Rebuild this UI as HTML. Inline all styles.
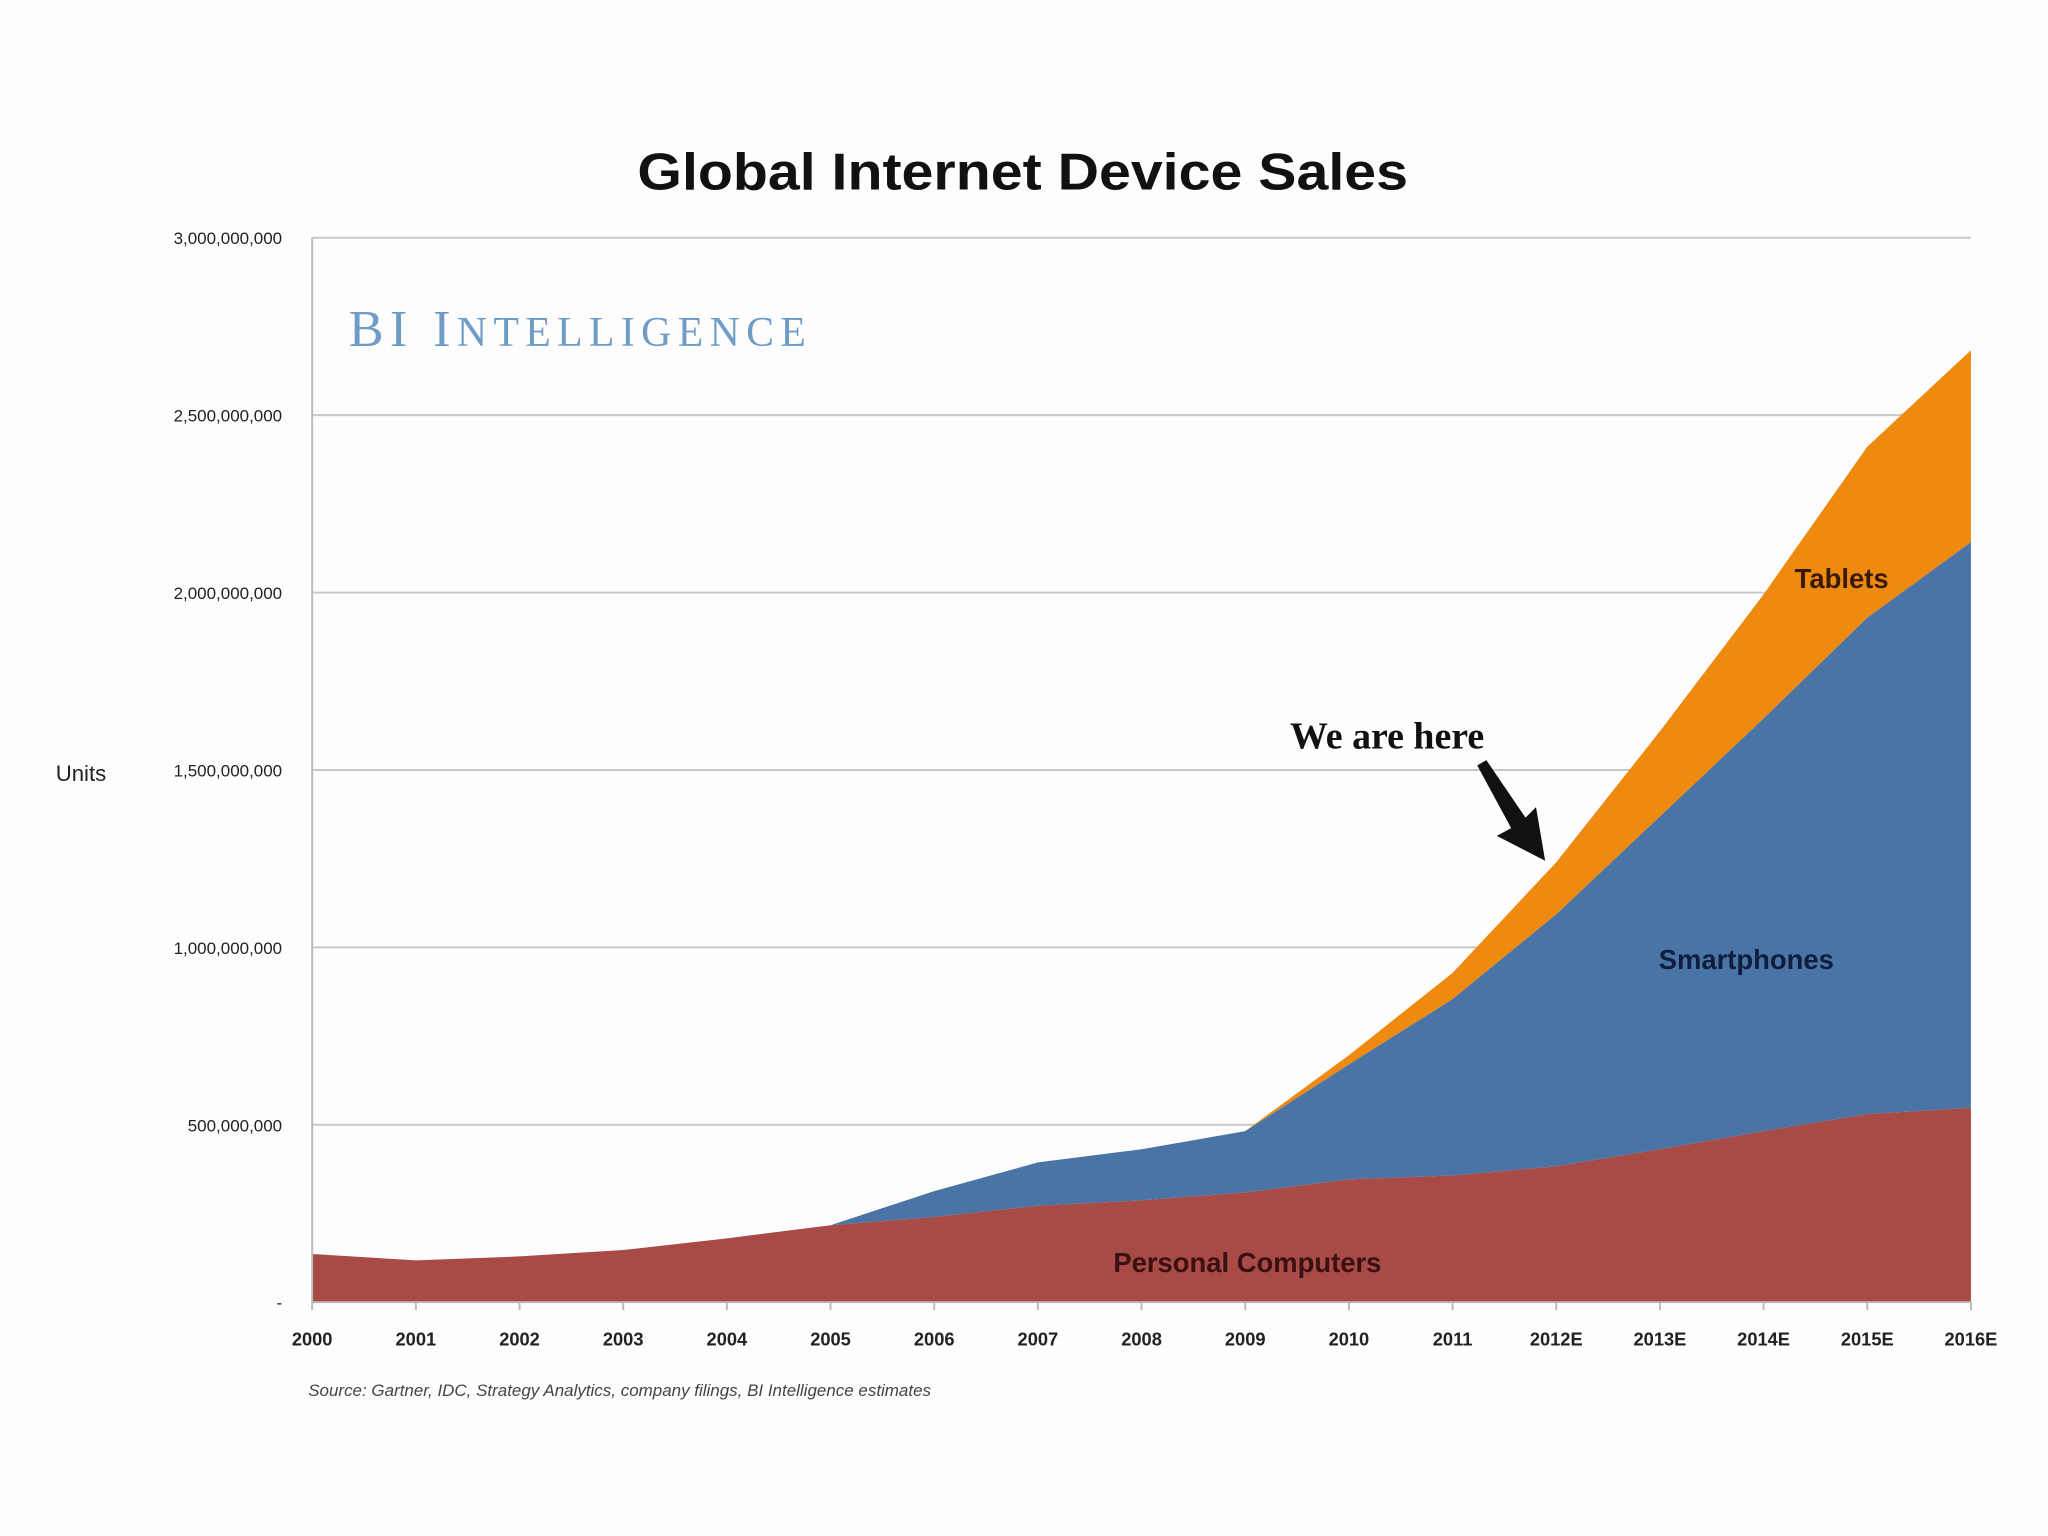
<!DOCTYPE html>
<html><head><meta charset="utf-8"><style>
html,body{margin:0;padding:0;background:#fdfdfd;}
svg{display:block;}
</style></head><body>
<svg id="chart" width="2048" height="1536" viewBox="0 0 1568 1176" xmlns="http://www.w3.org/2000/svg" font-family="Liberation Sans, sans-serif">
<rect width="1568" height="1176" fill="#fdfdfd"/>
<text x="783" y="145" text-anchor="middle" font-size="40" font-weight="bold" fill="#111" textLength="590" lengthAdjust="spacingAndGlyphs">Global Internet Device Sales</text>
<text x="267" y="265" font-family="Liberation Serif, serif" font-size="40" fill="#6f9cc6" textLength="350" lengthAdjust="spacing">BI I<tspan font-size="32">NTELLIGENCE</tspan></text>
<g id="grid"></g>
<g id="areas"></g>
<g id="axes"></g>
<text x="62" y="598" text-anchor="middle" font-size="17" fill="#222">Units</text>
<text x="1337" y="742" text-anchor="middle" font-size="21" font-weight="bold" fill="#0e1e3c">Smartphones</text>
<text x="1410" y="450" text-anchor="middle" font-size="21" font-weight="bold" fill="#3a1a05">Tablets</text>
<text x="955" y="974" text-anchor="middle" font-size="21" font-weight="bold" fill="#3a1010">Personal Computers</text>
<text x="1062" y="573" text-anchor="middle" font-family="Liberation Serif, serif" font-size="29" font-weight="bold" fill="#111">We are here</text>
<polygon points="1131,586 1138,582 1168,626 1176,618 1183,659 1146,640 1157,634" fill="#111"/>
<text x="236" y="1069" font-size="13" font-style="italic" fill="#444">Source: Gartner, IDC, Strategy Analytics, company filings, BI Intelligence estimates</text>
</svg>
<script>
const years = ["2000","2001","2002","2003","2004","2005","2006","2007","2008","2009","2010","2011","2012E","2013E","2014E","2015E","2016E"];
const pcs = [136,118,129,147,180,217,240,272,287,309,346,357,383,431,482,530,548];
const smartphones = [0,0,0,0,0,0,73,122,144,173,324,497,710,938,1163,1399,1594];
const tablets = [0,0,0,0,0,0,0,0,0,0,26,74,147,240,350,482,541];
const yTicks = [0,500,1000,1500,2000,2500,3000];
const yTickLabels = ["-","500,000,000","1,000,000,000","1,500,000,000","2,000,000,000","2,500,000,000","3,000,000,000"];

const NS="http://www.w3.org/2000/svg";
const X0=239, X1=1509, Y0=997, Y1=182, YMAX=3000;
function xs(i){return X0+(X1-X0)*i/(years.length-1);}
function ys(v){return Y0-(Y0-Y1)*v/YMAX;}
function mk(tag,attrs,parent){const e=document.createElementNS(NS,tag);for(const k in attrs)e.setAttribute(k,attrs[k]);parent.appendChild(e);return e;}
const grid=document.getElementById('grid'), areas=document.getElementById('areas'), axes=document.getElementById('axes');

yTicks.forEach((t,i)=>{
  const y=ys(t);
  if(t>0){const l=mk('line',{x1:X0,x2:X1,y1:y,y2:y,stroke:'#c8c8c8','stroke-width':1.5},grid);
  
  }
  const tx=mk('text',{x:216,y:y+5,'text-anchor':'end','font-size':13,fill:'#222'},axes);
  tx.textContent=yTickLabels[i];
  
  
});

const c1=pcs, c2=pcs.map((v,i)=>v+smartphones[i]), c3=c2.map((v,i)=>v+tablets[i]);
function band(lo,hi,color,name){
  let d='M'+xs(0)+','+ys(hi[0]);
  for(let i=1;i<hi.length;i++)d+=' L'+xs(i)+','+ys(hi[i]);
  for(let i=lo.length-1;i>=0;i--)d+=' L'+xs(i)+','+ys(lo[i]);
  const p=mk('path',{d:d+'Z',fill:color},areas);
  
  
}
const zeros=years.map(()=>0);
band(c2,c3,'#ee8a10','tablets-area');
band(c1,c2,'#4a74a6','smartphones-area');
band(zeros,c1,'#a84a45','pc-area');

const ax=mk('line',{x1:X0,x2:X0,y1:Y1,y2:Y0,stroke:'#bbb','stroke-width':1.5},axes);


const bx=mk('line',{x1:X0,x2:X1,y1:Y0,y2:Y0,stroke:'#bbb','stroke-width':1.5},axes);


years.forEach((yr,i)=>{
  const tk=mk('line',{x1:xs(i),x2:xs(i),y1:Y0,y2:Y0+6,stroke:'#bbb','stroke-width':1.5},axes);
  
  
  const t=mk('text',{x:xs(i),y:1030,'text-anchor':'middle','font-size':14,'font-weight':'bold',fill:'#222'},axes);
  t.textContent=yr;
  
  
});
</script>
</body></html>
